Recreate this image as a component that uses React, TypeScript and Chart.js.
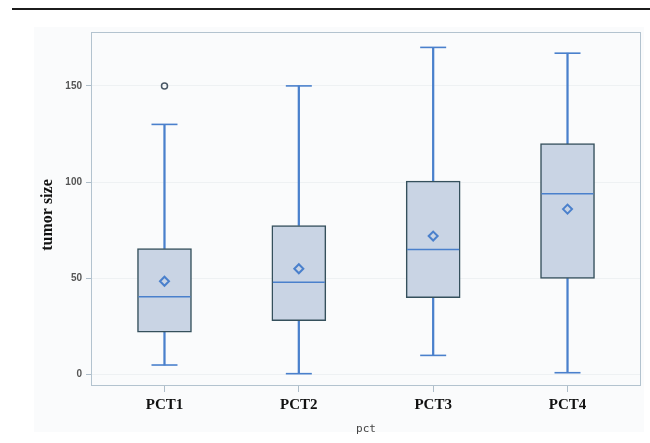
import React, { useEffect, useRef } from 'react';
import { Chart, registerables } from 'chart.js';

Chart.register(...registerables);

const categories = ['PCT1', 'PCT2', 'PCT3', 'PCT4'];
const whiskerMin = [5, 0.5, 10, 1];
const q1 = [22, 28, 40, 50];
const median = [40.5, 48, 65, 94];
const q3 = [65.5, 77.5, 100.5, 120];
const whiskerMax = [130, 150, 170, 167];
const means = [48.5, 55, 72, 86];
const outlierCategories = ['PCT1'];
const outlierValues = [150];
const yTicks = [0, 50, 100, 150];

const BLUE = '#4a80cc';
const BOX_EDGE = '#35505c';
const BOX_FILL = '#c9d4e4';

export default function App() {
  const ref = useRef<HTMLCanvasElement>(null);

  useEffect(() => {
    if (!ref.current) return;
    const pos = categories.map((_, i) => i + 1);
    const at = (arr: number[]) => arr.map((v, i) => ({ x: pos[i], y: v }));

    const framePlugin = {
      id: 'frame',
      beforeDatasetsDraw(chart: any) {
        const { ctx, chartArea: a } = chart;
        ctx.save();
        ctx.strokeStyle = '#b3c3cf';
        ctx.lineWidth = 1;
        ctx.strokeRect(a.left + 0.5, a.top + 0.5, a.right - a.left - 1, a.bottom - a.top - 1);
        ctx.restore();
      },
    };

    const chart = new Chart(ref.current, {
      type: 'bar',
      data: {
        datasets: [
          {
            type: 'scatter',
            data: at(means),
            pointStyle: 'rectRot',
            radius: 4.5,
            borderColor: BLUE,
            borderWidth: 2,
            backgroundColor: 'rgba(0,0,0,0)',
          } as any,
          {
            type: 'scatter',
            data: outlierCategories.map((c, i) => ({ x: categories.indexOf(c) + 1, y: outlierValues[i] })),
            pointStyle: 'circle',
            radius: 3,
            borderColor: '#4a5866',
            borderWidth: 1.5,
            backgroundColor: 'rgba(0,0,0,0)',
          } as any,
          {
            type: 'scatter',
            data: at(median),
            pointStyle: 'line',
            radius: 26,
            borderColor: BLUE,
            borderWidth: 1.5,
          } as any,
          {
            type: 'bar',
            data: q1.map((v, i) => ({ x: pos[i], y: [v, q3[i]] })),
            backgroundColor: BOX_FILL,
            borderColor: BOX_EDGE,
            borderWidth: 1.5,
            borderSkipped: false,
            barThickness: 54,
            grouped: false,
          } as any,
          {
            type: 'scatter',
            data: at(whiskerMax),
            pointStyle: 'line',
            radius: 13,
            borderColor: BLUE,
            borderWidth: 1.6,
          } as any,
          {
            type: 'scatter',
            data: at(whiskerMin),
            pointStyle: 'line',
            radius: 13,
            borderColor: BLUE,
            borderWidth: 1.6,
          } as any,
          {
            type: 'bar',
            data: q3.map((v, i) => ({ x: pos[i], y: [v, whiskerMax[i]] })),
            backgroundColor: BLUE,
            borderWidth: 0,
            barThickness: 1.6,
            grouped: false,
          } as any,
          {
            type: 'bar',
            data: whiskerMin.map((v, i) => ({ x: pos[i], y: [v, q1[i]] })),
            backgroundColor: BLUE,
            borderWidth: 0,
            barThickness: 1.6,
            grouped: false,
          } as any,
        ],
      },
      options: {
        responsive: false,
        devicePixelRatio: 1,
        animation: false,
        layout: { autoPadding: false, padding: { top: 32, right: 9, left: 0, bottom: 0 } },
        plugins: {
          legend: { display: false },
          tooltip: { enabled: false },
        },
        scales: {
          x: {
            type: 'linear',
            min: 0.453,
            max: 4.547,
            offset: false,
            grid: {
              offset: false,
              drawOnChartArea: false,
              tickLength: 6,
              tickColor: '#aebdc9',
            },
            border: { display: false },
            afterBuildTicks: (s: any) => {
              s.ticks = pos.map((v) => ({ value: v }));
            },
            afterFit: (s: any) => {
              s.height = 57;
              s.paddingLeft = 0;
              s.paddingRight = 0;
            },
            ticks: {
              autoSkip: false,
              maxRotation: 0,
              padding: 4,
              color: '#111',
              font: { family: 'Liberation Serif', weight: 'bold', size: 15 },
              callback: (v: any) => categories[Math.round(v) - 1] ?? '',
            },
            title: {
              display: true,
              text: 'pct',
              color: '#444',
              font: { family: 'DejaVu Sans Mono', size: 11 },
              padding: { top: 0, bottom: 7 },
            },
          },
          y: {
            type: 'linear',
            min: -5.9,
            max: 178,
            grid: {
              color: '#eef1f3',
              tickColor: '#aebdc9',
              tickLength: 5,
            },
            border: { display: false },
            afterBuildTicks: (s: any) => {
              s.ticks = yTicks.map((v) => ({ value: v }));
            },
            afterFit: (s: any) => {
              s.width = 91;
            },
            ticks: {
              padding: 4,
              color: '#555',
              font: { family: 'Liberation Sans', weight: 'bold', size: 10 },
            },
            title: {
              display: true,
              text: 'tumor size\u00a0\u00a0\u00a0',
              color: '#111',
              font: { family: 'Liberation Serif', weight: 'bold', size: 16 },
              padding: { top: 38, bottom: 0 },
            },
          },
        },
      },
      plugins: [framePlugin],
    } as any);

    return () => chart.destroy();
  }, []);

  return (
    <div style={{ position: 'absolute', left: 0, top: 0, width: 650, height: 443, background: '#fff', overflow: 'hidden' }}>
      <div style={{ position: 'absolute', left: 12, top: 8, width: 638, height: 2, background: '#1c1c1c' }} />
      <div style={{ position: 'absolute', left: 34, top: 27, width: 610, height: 405, background: '#fafbfc' }} />
      <canvas ref={ref} width={650} height={443} style={{ position: 'absolute', left: 0, top: 0, width: 650, height: 443 }} />
    </div>
  );
}
